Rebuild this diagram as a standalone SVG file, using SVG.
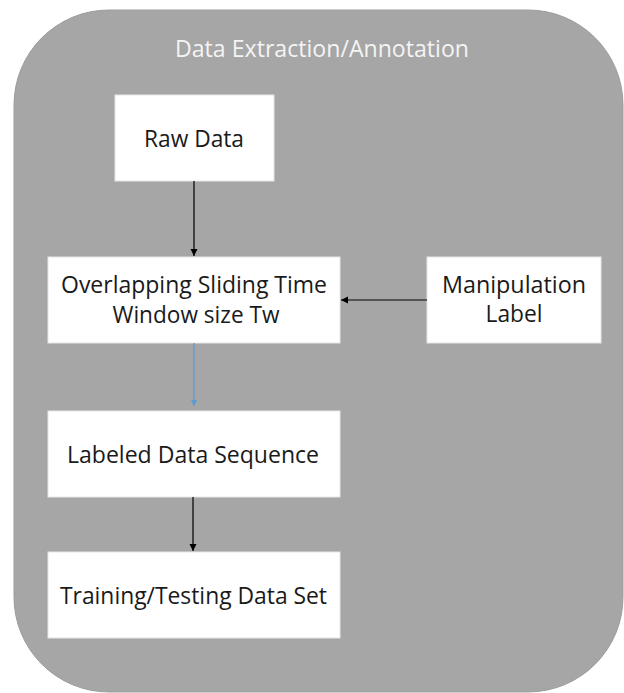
<svg xmlns="http://www.w3.org/2000/svg" width="624" height="693" viewBox="0 0 624 693">
<style>
.box{fill:#ffffff;stroke:#e6e6e6;stroke-width:1}
.t{font-family:"Open Sans","Liberation Sans",sans-serif;font-size:23px;fill:#1a1a1a;text-anchor:middle}
.title{font-family:"Open Sans","Liberation Sans",sans-serif;font-size:23px;fill:#f4f4f4;text-anchor:middle}
.c{stroke:#000000;stroke-width:1.2;fill:none}
.cb{stroke:#5b9bd5;stroke-width:1.2;fill:none}
</style>
<defs>
<marker id="ah" markerWidth="8" markerHeight="8" refX="7" refY="4" orient="auto" markerUnits="userSpaceOnUse">
<path d="M0,0.5 L7,4 L0,7.5 Z" fill="#000000"/>
</marker>
<marker id="ahb" markerWidth="8" markerHeight="8" refX="6" refY="4" orient="auto" markerUnits="userSpaceOnUse">
<path d="M0,1 L6,4 L0,7 Z" fill="#5b9bd5"/>
</marker>
</defs>
<rect x="0" y="0" width="624" height="693" fill="#ffffff"/>
<g id="container">
<rect x="14" y="10" width="609" height="682" rx="95" ry="95" fill="#a6a6a6" stroke="#9c9c9c" stroke-width="1"/>
<text class="title" x="322" y="57" textLength="294" lengthAdjust="spacingAndGlyphs">Data Extraction/Annotation</text>
</g>
<g id="raw-data">
<rect class="box" x="115" y="95" width="159" height="86"/>
<text class="t" x="194" y="147" textLength="100" lengthAdjust="spacingAndGlyphs">Raw Data</text>
</g>
<g id="sliding-window">
<rect class="box" x="48" y="257" width="292" height="86"/>
<text class="t" x="194" y="293" textLength="266" lengthAdjust="spacingAndGlyphs">Overlapping Sliding Time</text>
<text class="t" x="196" y="323" textLength="167" lengthAdjust="spacingAndGlyphs">Window size Tw</text>
</g>
<g id="manipulation-label">
<rect class="box" x="427" y="257" width="174" height="86"/>
<text class="t" x="514" y="293" textLength="144" lengthAdjust="spacingAndGlyphs">Manipulation</text>
<text class="t" x="514" y="322" textLength="57" lengthAdjust="spacingAndGlyphs">Label</text>
</g>
<g id="labeled-data">
<rect class="box" x="48" y="411" width="292" height="86"/>
<text class="t" x="193" y="463" textLength="252" lengthAdjust="spacingAndGlyphs">Labeled Data Sequence</text>
</g>
<g id="training-testing">
<rect class="box" x="48" y="552" width="292" height="86"/>
<text class="t" x="193.5" y="604" textLength="267" lengthAdjust="spacingAndGlyphs">Training/Testing Data Set</text>
</g>
<g id="connectors">
<line class="c" x1="194" y1="181" x2="194" y2="256" marker-end="url(#ah)"/>
<line class="c" x1="427" y1="300" x2="341" y2="300" marker-end="url(#ah)"/>
<line class="cb" x1="194" y1="343" x2="194" y2="406" marker-end="url(#ahb)"/>
<line class="c" x1="193" y1="497" x2="193" y2="551" marker-end="url(#ah)"/>
</g>
</svg>
